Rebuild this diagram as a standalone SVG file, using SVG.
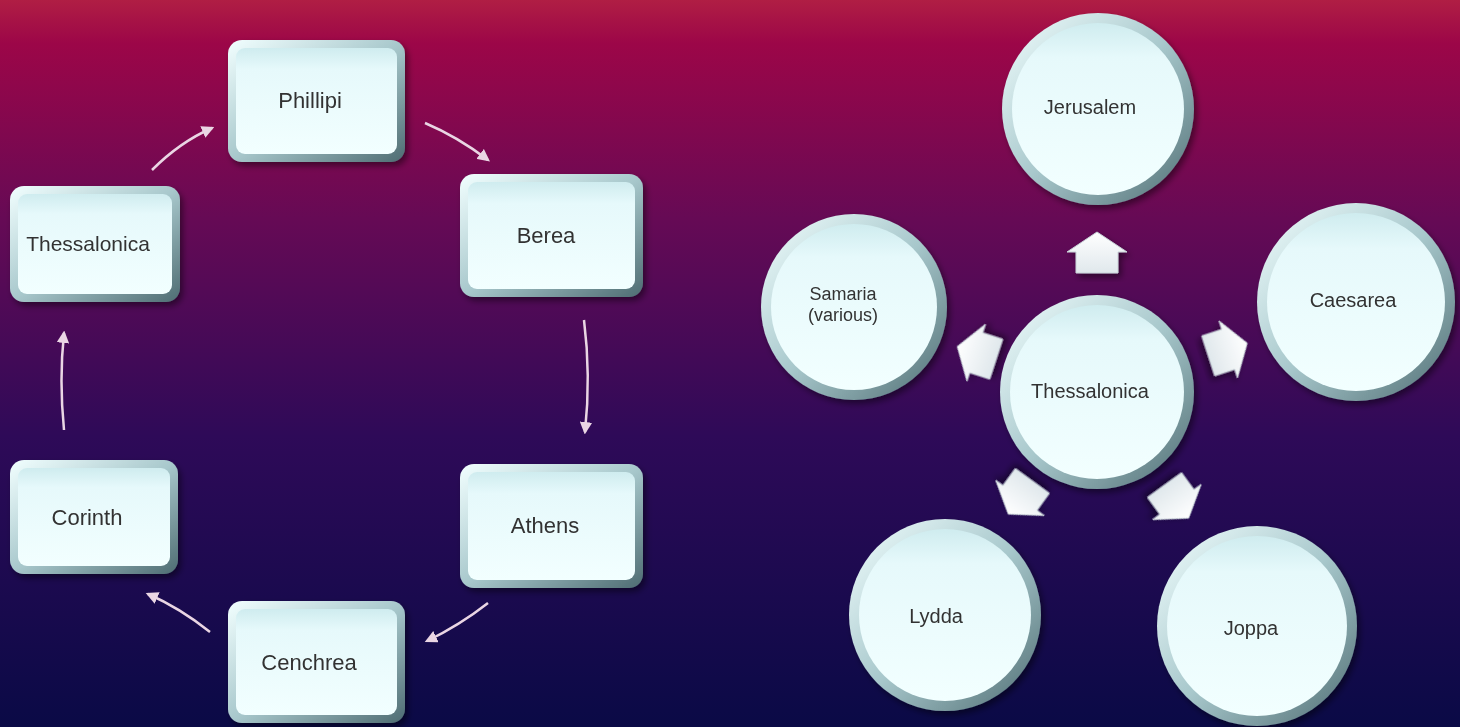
<svg xmlns="http://www.w3.org/2000/svg" width="1460" height="727" viewBox="0 0 1460 727">
<defs>
<linearGradient id="bg" x1="0" y1="0" x2="0" y2="1">
<stop offset="0" stop-color="#b01e44"/>
<stop offset="0.06" stop-color="#9c0648"/>
<stop offset="0.3" stop-color="#660a55"/>
<stop offset="0.6" stop-color="#2e0a58"/>
<stop offset="1" stop-color="#0a0a46"/>
</linearGradient>
<linearGradient id="rim" x1="0" y1="0" x2="1" y2="1">
<stop offset="0" stop-color="#f2ffff"/>
<stop offset="0.5" stop-color="#a8c8cc"/>
<stop offset="1" stop-color="#4e6c72"/>
</linearGradient>
<linearGradient id="face" x1="0" y1="0" x2="0" y2="1">
<stop offset="0" stop-color="#cfecef"/>
<stop offset="0.2" stop-color="#e6f9fb"/>
<stop offset="1" stop-color="#f2ffff"/>
</linearGradient>
<linearGradient id="arr" x1="0" y1="0" x2="0" y2="1">
<stop offset="0" stop-color="#ffffff"/>
<stop offset="1" stop-color="#e0e8ec"/>
</linearGradient>
<filter id="sh" x="-20%" y="-20%" width="140%" height="140%">
<feDropShadow dx="3" dy="4" stdDeviation="3" flood-color="#000" flood-opacity="0.45"/>
</filter>
<marker id="ah" viewBox="0 0 10 10" refX="8" refY="5" markerWidth="5" markerHeight="5" orient="auto">
<path d="M0,0 L10,5 L0,10 z" fill="#ead6e4"/>
</marker>
<style>
.lbl{font-family:"Liberation Sans",Arial,sans-serif;font-size:22px;fill:#333;text-anchor:middle;dominant-baseline:central}
.clbl{font-family:"Liberation Sans",Arial,sans-serif;font-size:20px;fill:#333;text-anchor:middle;dominant-baseline:central}
.edge{fill:none;stroke:#ead6e4;stroke-width:2.5;marker-end:url(#ah)}
.ra{fill:url(#arr);stroke:#c8d4d8;stroke-width:1;filter:url(#sh)}
</style>
</defs>
<rect width="1460" height="727" fill="url(#bg)"/>

<g id="connectors">
<path class="edge" d="M152,170 Q180,142 212,128"/>
<path class="edge" d="M425,123 Q458,137 488,160"/>
<path class="edge" d="M584,320 Q591,375 585,432"/>
<path class="edge" d="M488,603 Q460,625 427,641"/>
<path class="edge" d="M210,632 Q180,608 148,594"/>
<path class="edge" d="M64,430 Q59,380 64,333"/>
</g>

<g id="n-phillipi" filter="url(#sh)">
<rect x="228" y="40" width="177" height="122" rx="14" fill="url(#rim)"/>
<rect x="236" y="48" width="161" height="106" rx="9" fill="url(#face)"/>
<text class="lbl" x="310" y="100">Phillipi</text>
</g>
<g id="n-berea" filter="url(#sh)">
<rect x="460" y="174" width="183" height="123" rx="14" fill="url(#rim)"/>
<rect x="468" y="182" width="167" height="107" rx="9" fill="url(#face)"/>
<text class="lbl" x="546" y="235">Berea</text>
</g>
<g id="n-athens" filter="url(#sh)">
<rect x="460" y="464" width="183" height="124" rx="14" fill="url(#rim)"/>
<rect x="468" y="472" width="167" height="108" rx="9" fill="url(#face)"/>
<text class="lbl" x="545" y="525">Athens</text>
</g>
<g id="n-cenchrea" filter="url(#sh)">
<rect x="228" y="601" width="177" height="122" rx="14" fill="url(#rim)"/>
<rect x="236" y="609" width="161" height="106" rx="9" fill="url(#face)"/>
<text class="lbl" x="309" y="662">Cenchrea</text>
</g>
<g id="n-corinth" filter="url(#sh)">
<rect x="10" y="460" width="168" height="114" rx="14" fill="url(#rim)"/>
<rect x="18" y="468" width="152" height="98" rx="9" fill="url(#face)"/>
<text class="lbl" x="87" y="517">Corinth</text>
</g>
<g id="n-thessalonica-l" filter="url(#sh)">
<rect x="10" y="186" width="170" height="116" rx="14" fill="url(#rim)"/>
<rect x="18" y="194" width="154" height="100" rx="9" fill="url(#face)"/>
<text class="lbl" x="88" y="243" style="font-size:21px">Thessalonica</text>
</g>

<g id="radial-arrows">
<polygon class="ra" points="0,-21 30,-1 21,-1 21,20 -21,20 -21,-1 -30,-1" transform="translate(1097,392) rotate(0) translate(0,-139)"/>
<polygon class="ra" points="0,-21 30,-1 21,-1 21,20 -21,20 -21,-1 -30,-1" transform="translate(1097,392) rotate(72) translate(0,-137)"/>
<polygon class="ra" points="0,-21 30,-1 21,-1 21,20 -21,20 -21,-1 -30,-1" transform="translate(1097,392) rotate(144) translate(0,-135)"/>
<polygon class="ra" points="0,-21 30,-1 21,-1 21,20 -21,20 -21,-1 -30,-1" transform="translate(1097,392) rotate(-144) translate(0,-130)"/>
<polygon class="ra" points="0,-21 30,-1 21,-1 21,20 -21,20 -21,-1 -30,-1" transform="translate(1097,392) rotate(-72) translate(0,-126)"/>
</g>

<g id="c-center" filter="url(#sh)">
<circle cx="1097" cy="392" r="97" fill="url(#rim)"/>
<circle cx="1097" cy="392" r="87" fill="url(#face)"/>
<text class="clbl" x="1090" y="391">Thessalonica</text>
</g>
<g id="c-jerusalem" filter="url(#sh)">
<circle cx="1098" cy="109" r="96" fill="url(#rim)"/>
<circle cx="1098" cy="109" r="86" fill="url(#face)"/>
<text class="clbl" x="1090" y="107">Jerusalem</text>
</g>
<g id="c-caesarea" filter="url(#sh)">
<circle cx="1356" cy="302" r="99" fill="url(#rim)"/>
<circle cx="1356" cy="302" r="89" fill="url(#face)"/>
<text class="clbl" x="1353" y="300">Caesarea</text>
</g>
<g id="c-joppa" filter="url(#sh)">
<circle cx="1257" cy="626" r="100" fill="url(#rim)"/>
<circle cx="1257" cy="626" r="90" fill="url(#face)"/>
<text class="clbl" x="1251" y="628">Joppa</text>
</g>
<g id="c-lydda" filter="url(#sh)">
<circle cx="945" cy="615" r="96" fill="url(#rim)"/>
<circle cx="945" cy="615" r="86" fill="url(#face)"/>
<text class="clbl" x="936" y="616">Lydda</text>
</g>
<g id="c-samaria" filter="url(#sh)">
<circle cx="854" cy="307" r="93" fill="url(#rim)"/>
<circle cx="854" cy="307" r="83" fill="url(#face)"/>
<text class="clbl" x="843" y="294" style="font-size:18px">Samaria</text>
<text class="clbl" x="843" y="315" style="font-size:18px">(various)</text>
</g>
</svg>
